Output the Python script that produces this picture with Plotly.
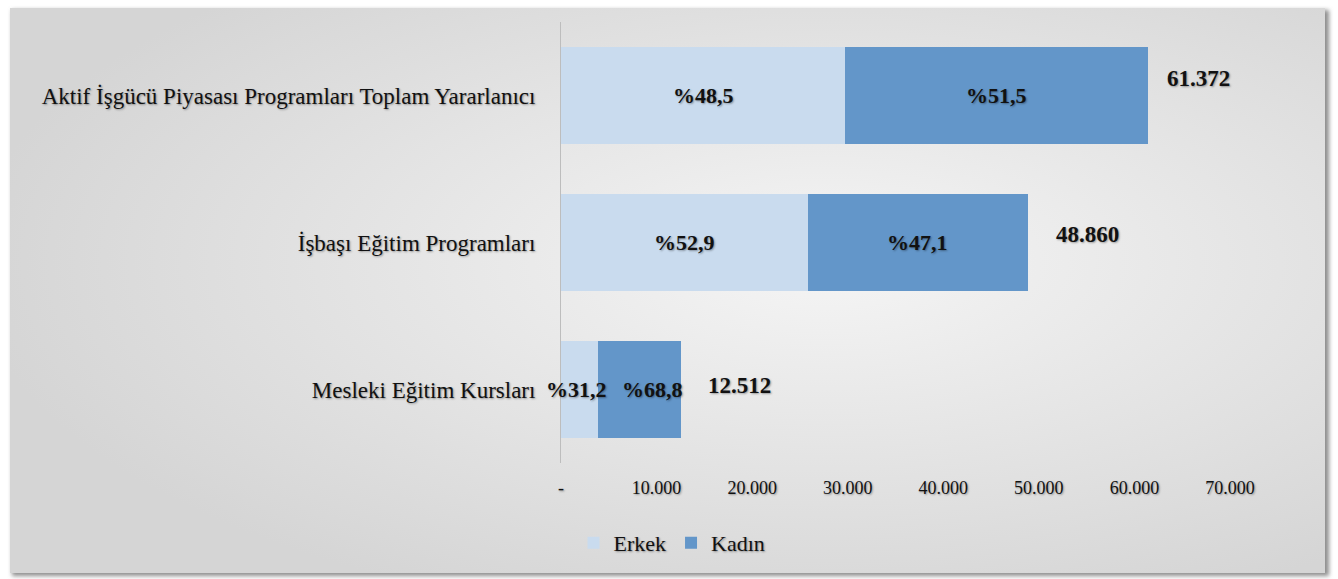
import base64
import plotly.graph_objects as go

# ---- data ----
categories = ["Mesleki Eğitim Kursları", "İşbaşı Eğitim Programları",
              "Aktif İşgücü Piyasası Programları Toplam Yararlanıcı"]
totals = [12512, 48860, 61372]
erkek_pct = [31.2, 52.9, 48.5]
kadin_pct = [68.8, 47.1, 51.5]
total_labels = ["12.512", "48.860", "61.372"]
tick_vals = [0, 10000, 20000, 30000, 40000, 50000, 60000, 70000]
tick_text = ["-", "10.000", "20.000", "30.000", "40.000", "50.000", "60.000", "70.000"]

erkek = [t * p / 100 for t, p in zip(totals, erkek_pct)]
kadin = [t * p / 100 for t, p in zip(totals, kadin_pct)]

def pct_txt(v):
    return "%" + f"{v:.1f}".replace(".", ",")

W, H = 1338, 579
L, R, T, B = 561, 108, 22, 116
PW, PH = W - L - R, H - T - B

FONT = "Liberation Serif"
SHADOW = "1px 1px 2px rgba(0,0,0,0.35)"
TXT = "#111111"

# background frame with radial gradient + drop shadow
svg = f'''<svg xmlns="http://www.w3.org/2000/svg" width="{W}" height="{H}" viewBox="0 0 {W} {H}">
<defs>
<radialGradient id="g" cx="0.62" cy="0.45" r="0.65">
<stop offset="0" stop-color="#f5f5f5"/>
<stop offset="1" stop-color="#d5d5d5"/>
</radialGradient>
<filter id="b" x="-5%" y="-5%" width="110%" height="110%"><feGaussianBlur stdDeviation="2"/></filter>
</defs>
<rect x="0" y="0" width="{W}" height="{H}" fill="#ffffff"/>
<rect x="12" y="10" width="1317" height="566" fill="#8f8f8f" filter="url(#b)"/>
<rect x="10" y="8" width="1315" height="565" fill="url(#g)"/>
</svg>'''
src = "data:image/svg+xml;base64," + base64.b64encode(svg.encode()).decode()

fig = go.Figure()
fig.add_trace(go.Bar(
    y=categories, x=erkek, name="Erkek", orientation="h",
    marker=dict(color="#c9dbee", line=dict(width=0)), hoverinfo="skip"))
fig.add_trace(go.Bar(
    y=categories, x=kadin, name="Kadın", orientation="h",
    marker=dict(color="#6396c9", line=dict(width=0)), hoverinfo="skip"))

# segment percentage labels (drawn on top of all bars)
erkek_label_shift = [-3, 0, 0]
kadin_label_shift = [13, 0, 0]
for i, (c, e, k, ep, kp) in enumerate(zip(categories, erkek, kadin, erkek_pct, kadin_pct)):
    for xm, p, sh in ((e / 2, ep, erkek_label_shift[i]), (e + k / 2, kp, kadin_label_shift[i])):
        fig.add_annotation(x=xm, y=c, text=f"<b>{pct_txt(p)}</b>", showarrow=False,
                           xanchor="center", yanchor="middle", xshift=sh,
                           font=dict(family=FONT, size=22, color=TXT, shadow=SHADOW))

label_shift_x = [25, 26, 17]
label_shift_y = [4, 8, 17]
for i, (c, t, lab) in enumerate(zip(categories, totals, total_labels)):
    fig.add_annotation(x=t, y=c, text=f"<b>{lab}</b>", showarrow=False,
                       xanchor="left", yanchor="middle",
                       xshift=label_shift_x[i], yshift=label_shift_y[i],
                       font=dict(family=FONT, size=23, color=TXT, shadow=SHADOW))

fig.add_layout_image(dict(source=src, xref="paper", yref="paper",
                          x=-L / PW, y=1 + T / PH, sizex=W / PW, sizey=H / PH,
                          xanchor="left", yanchor="top", sizing="stretch",
                          layer="below"))

fig.update_layout(
    width=W, height=H, barmode="stack", bargap=0.34,
    margin=dict(l=L, r=R, t=T, b=B, autoexpand=False),
    paper_bgcolor="#ffffff", plot_bgcolor="rgba(0,0,0,0)",
    font=dict(family=FONT),
    showlegend=True,
    legend=dict(orientation="h", x=(672 - L) / PW, xanchor="center",
                y=1 - (543 - T) / PH, yanchor="middle", traceorder="normal",
                font=dict(family=FONT, size=22, color=TXT, shadow=SHADOW),
                bgcolor="rgba(0,0,0,0)", itemwidth=30, tracegroupgap=0),
    xaxis=dict(range=[0, 70000], tickvals=tick_vals, ticktext=tick_text,
               showgrid=False, zeroline=False, showline=False, ticks="",
               ticklabelstandoff=12,
               tickfont=dict(family=FONT, size=18, color=TXT, shadow=SHADOW)),
    yaxis=dict(showgrid=False, zeroline=False, showline=True, linecolor="#bdbdbd",
               linewidth=1, ticks="", ticklabelstandoff=20,
               tickfont=dict(family=FONT, size=23, color=TXT, shadow=SHADOW)),
)

fig.write_html("out.html", config={"displayModeBar": False},
               post_script="document.body.style.margin='0';document.body.style.padding='0';")
